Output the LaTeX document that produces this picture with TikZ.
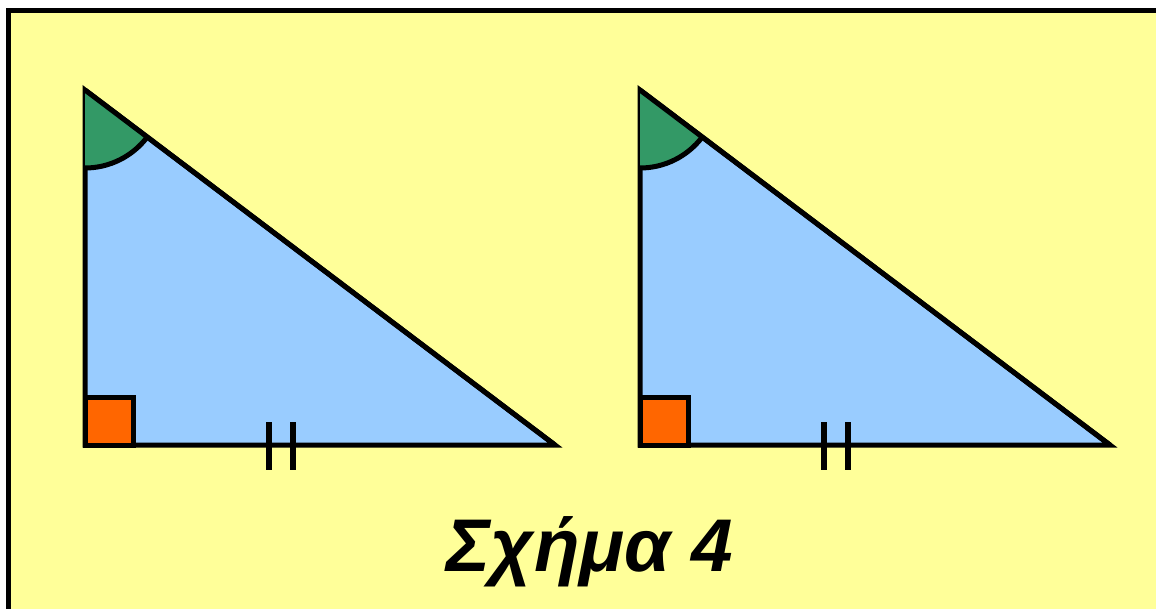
\documentclass[tikz,border=0pt]{standalone}
\usepackage{fontspec}
\setmainfont{Liberation Sans}
\usepackage{xcolor}
\usetikzlibrary{positioning,calc}

\definecolor{paper}{HTML}{FFFF99}
\definecolor{sky}{HTML}{99CCFF}
\definecolor{angleg}{HTML}{339966}
\definecolor{squareo}{HTML}{FF6600}

\begin{document}
\begin{tikzpicture}[x=0.75pt, y=-0.75pt, line width=3.75pt, tri/.style = {draw, fill=sky}, anglefill/.style = {fill=angleg}, rightsq/.style = {draw, fill=squareo}, tick/.style = {line width=4.5pt}, caption/.style = {anchor=base, inner sep=0pt, font=\fontsize{56}{60}\selectfont\bfseries\itshape}]

\clip (0,0) rectangle (1156,608);
\draw[fill=paper] (8,10) rectangle (1180,640);

\foreach \i/\o in {1/0, 2/555} {
  \coordinate (top\i) at (85+\o,90);
  \coordinate (corner\i) at (85+\o,445);
  \coordinate (right\i) at (555+\o,445);
  \draw[tri] (top\i) -- (corner\i) -- (right\i) -- cycle;
  \fill[anglefill] (top\i) -- ++(90:78) arc[start angle=90, end angle=37.07, radius=78] -- cycle;
  \draw (top\i) ++(90:78) arc[start angle=90, end angle=37.07, radius=78];
  \draw (top\i) -- (right\i);
  \draw[rightsq] (corner\i) rectangle ++(48,-48);
  \draw[tick] ($(corner\i)+(184,-23)$) -- ++(0,48);
  \draw[tick] ($(corner\i)+(208,-23)$) -- ++(0,48);
}

\node[caption] (title) at (590,571) {Σχήμα 4};
\end{tikzpicture}
\end{document}
